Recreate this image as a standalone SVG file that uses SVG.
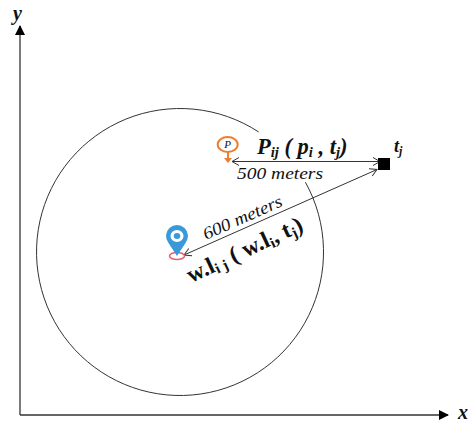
<svg xmlns="http://www.w3.org/2000/svg" width="469" height="422" viewBox="0 0 469 422">
<defs>
<marker id="solid" markerWidth="12" markerHeight="10" refX="9" refY="5" orient="auto" markerUnits="userSpaceOnUse"><path d="M0 0L10 5L0 10Z" fill="#000"/></marker>
<marker id="open" markerWidth="10" markerHeight="10" refX="8" refY="5" orient="auto-start-reverse" markerUnits="userSpaceOnUse"><path d="M1 1L8 5L1 9" fill="none" stroke="#333" stroke-width="1"/></marker>
</defs>
<style>
text{font-family:"Liberation Serif",serif;fill:#111}
.b{font-weight:bold;font-style:italic}
.i{font-style:italic}
.ln{stroke:#333;stroke-width:1;fill:none}
.ax{stroke:#333;stroke-width:1.300;fill:none}
</style>
<rect width="469" height="422" fill="#fff"/>
<g id="connectors">
<path class="ax" d="M20 415V26" marker-end="url(#solid)"/>
<path class="ax" d="M20 415H448" marker-end="url(#solid)"/>
<path class="ln" d="M232 161.500H380" marker-start="url(#open)" marker-end="url(#open)"/>
<path class="ln" d="M184 255L377 169.500" marker-start="url(#open)" marker-end="url(#open)"/>
</g>
<g id="circle-node">
<path d="M258.700 132A143.500 143.500 0 1 0 305.400 182.200" fill="none" stroke="#333" stroke-width="1"/>
</g>
<g id="y-label"><text class="b" x="13" y="20" font-size="20">y</text></g>
<g id="x-label"><text class="b" x="458" y="419" font-size="20">x</text></g>
<g id="poi-marker">
<ellipse cx="227.700" cy="144.500" rx="10" ry="7.500" fill="#fff" stroke="#ed7d31" stroke-width="2"/>
<path d="M228 152V160" stroke="#ed7d31" stroke-width="2"/>
<path d="M224 158H232L228 163Z" fill="#ed7d31"/>
<text class="i" x="227.700" y="148" font-size="11" text-anchor="middle">P</text>
</g>
<g id="user-marker">
<ellipse cx="177" cy="256" rx="7.500" ry="3.500" fill="#fff" stroke="#e8606e" stroke-width="1.600"/>
<path d="M177 256L168.500 243A11 11 0 1 1 185.500 243Z" fill="#3a9ad9"/>
<ellipse cx="177" cy="236" rx="6.500" ry="6" fill="#fff"/>
<ellipse cx="177" cy="236" rx="3.300" ry="3" fill="#3a9ad9"/>
</g>
<g id="target-node">
<rect x="378" y="158" width="12" height="12" fill="#000"/>
<text class="b" x="394" y="152" font-size="18">t<tspan font-size="12" dy="3">j</tspan></text>
</g>
<g id="labels">
<text class="b" x="257" y="154" font-size="22.500">P<tspan font-size="14.500" dy="3">ij</tspan><tspan dy="-3"> ( p</tspan><tspan font-size="14.500" dy="3">i</tspan><tspan dy="-3"> , t</tspan><tspan font-size="14.500" dy="3">j</tspan><tspan dy="-3">)</tspan></text>
<text class="i" x="237" y="179" font-size="17.500" textLength="86" lengthAdjust="spacingAndGlyphs">500 meters</text>
<text class="i" transform="translate(206 240) rotate(-24)" font-size="17.500" textLength="85" lengthAdjust="spacingAndGlyphs">600 meters</text>
<text class="b" transform="translate(191 283) rotate(-25)" font-size="23.500" style="font-style:normal">w.l<tspan font-size="15" dy="3">i j</tspan><tspan dy="-3"> ( w.l</tspan><tspan font-size="15" dy="3">i</tspan><tspan dy="-3">, t</tspan><tspan font-size="15" dy="3">j</tspan><tspan dy="-3">)</tspan></text>
</g>
</svg>
